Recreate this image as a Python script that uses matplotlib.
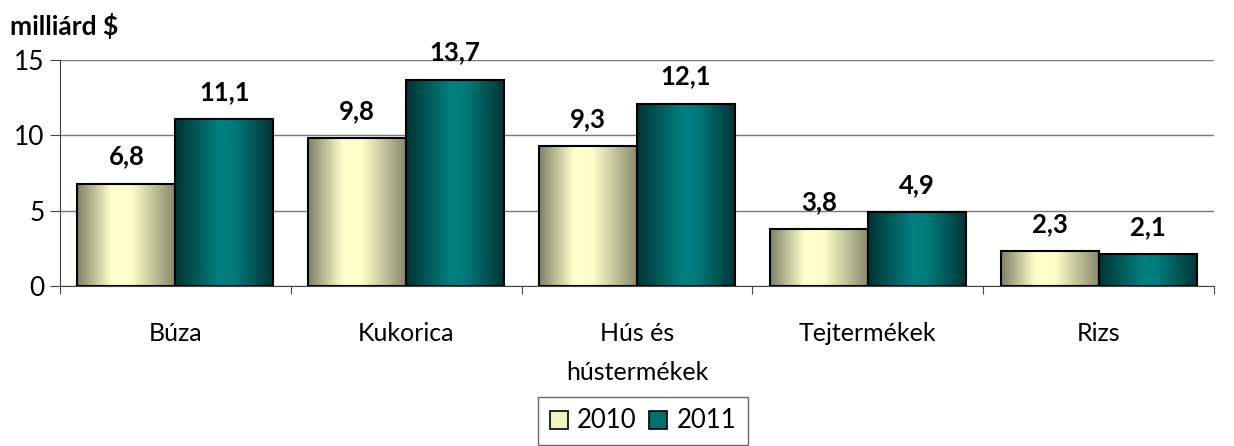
import numpy as np
import matplotlib
matplotlib.use("Agg")
import matplotlib.pyplot as plt
from matplotlib.colors import LinearSegmentedColormap
from matplotlib.patches import Rectangle

categories = ["Búza", "Kukorica", "Hús és\nhústermékek", "Tejtermékek", "Rizs"]
series_names = ["2010", "2011"]
values_2010 = [6.8, 9.8, 9.3, 3.8, 2.3]
values_2011 = [11.1, 13.7, 12.1, 4.9, 2.1]
ylabel = "milliárd $"
yticks = [0, 5, 10, 15]

plt.rcParams['font.family'] = ['Lato', 'DejaVu Sans']

fig = plt.figure(figsize=(12.34, 4.46), dpi=100)
ax = fig.add_axes([60/1234, 1-286/446, (1214-60)/1234, (286-60)/446])

cmap_2010 = LinearSegmentedColormap.from_list("c10", [(0, "#7f7f66"), (0.35, "#ffffcc"), (0.55, "#fdfdc8"), (1, "#87876c")])
cmap_2011 = LinearSegmentedColormap.from_list("c11", [(0, "#003333"), (0.45, "#008080"), (0.6, "#007b7b"), (1, "#003333")])

x = np.arange(len(categories))
w = 0.425
grad = np.linspace(0, 1, 256).reshape(1, -1)
for vals, offs, cmap in [(values_2010, -w/2, cmap_2010), (values_2011, w/2, cmap_2011)]:
    bars = ax.bar(x + offs, vals, w, color="none", edgecolor="black", linewidth=1.5, zorder=3)
    for b, v in zip(bars, vals):
        x0 = b.get_x()
        im = ax.imshow(grad, cmap=cmap, extent=[x0, x0 + b.get_width(), 0, v], aspect="auto", zorder=2)
        im.set_clip_path(b)
        ax.text(x0 + b.get_width()/2, v + 1.0, f"{v:.1f}".replace(".", ","), ha="center", va="bottom",
                fontsize=18.5, fontweight="bold", zorder=4)

ax.set_xlim(-0.5, len(categories) - 0.5)
ax.set_ylim(0, 15)
ax.set_yticks(yticks)
ax.set_yticklabels([str(t) for t in yticks], fontsize=19)
ax.set_xticks(np.arange(len(categories) + 1) - 0.5)
ax.set_xticklabels([])
ax.set_xticks(x, minor=True)
ax.set_xticklabels(categories, minor=True, fontsize=18, linespacing=1.85)
ax.tick_params(axis="x", which="minor", length=0, pad=26)
ax.tick_params(axis="x", which="major", length=6, direction="out", color="#444")
ax.tick_params(axis="y", length=7, direction="out", color="#444", pad=4)
ax.yaxis.grid(True, color="#777", linewidth=1, zorder=0)
ax.set_axisbelow(True)
for s in ["top", "right"]:
    ax.spines[s].set_visible(False)
ax.spines["left"].set_color("#444")
ax.spines["bottom"].set_color("#444")

fig.text(10/1234, 1-26/446, ylabel, fontsize=19, fontweight="bold", va="center", ha="left")

handles = [Rectangle((0, 0), 1, 1, facecolor="#f3f3c0", edgecolor="black", linewidth=1.2),
           Rectangle((0, 0), 1, 1, facecolor="#006f6f", edgecolor="black", linewidth=1.2)]
fig.legend(handles, series_names, loc="center", bbox_to_anchor=(643/1234, 1-421/446), ncol=2,
           fontsize=18.5, frameon=True, fancybox=False, edgecolor="#444", handlelength=0.7, handleheight=0.7,
           handletextpad=0.35, columnspacing=0.5, borderpad=0.45)

fig.savefig("out.png", dpi=100)
